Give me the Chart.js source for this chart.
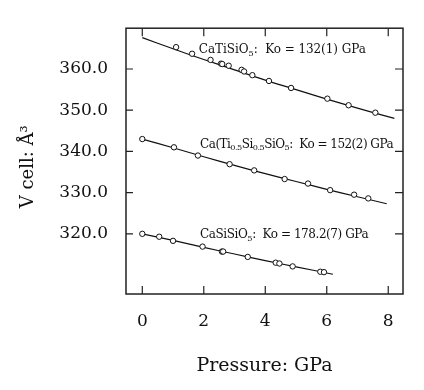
<!DOCTYPE html>
<html><head><meta charset="utf-8">
<script src="https://cdn.jsdelivr.net/npm/chart.js@4/dist/chart.umd.min.js"></script>
<style>html,body{margin:0;padding:0;background:#fff}#wrap{width:424px;height:390px}</style>
</head><body><div id="wrap"><canvas id="c" width="424" height="390"></canvas></div>
<script>
// ---- data ----
const xTicks = [0, 2, 4, 6, 8];
const xTickLabels = ['0', '2', '4', '6', '8'];
const yTicks = [320, 330, 340, 350, 360];
const yTickLabels = ['320.0', '330.0', '340.0', '350.0', '360.0'];

// CaTiSiO5
const tiP = [1.10, 1.62, 2.22, 2.56, 2.60, 2.81, 3.23, 3.31, 3.58, 4.12, 4.84, 6.02, 6.71, 7.58];
const tiV = [365.3, 363.7, 362.2, 361.3, 361.2, 360.8, 359.8, 359.4, 358.5, 357.1, 355.4, 352.8, 351.2, 349.4];
const tiFitP = [0, 1, 2, 3, 4, 5, 6, 7, 8.2];
const tiFitV = [367.6, 364.9, 362.3, 359.8, 357.3, 355.0, 352.7, 350.5, 348.0];

// Ca(Ti0.5Si0.5)SiO5
const midP = [0, 1.03, 1.81, 2.84, 3.64, 4.63, 5.39, 6.11, 6.89, 7.35];
const midV = [343.0, 341.0, 339.0, 336.9, 335.4, 333.3, 332.2, 330.6, 329.5, 328.6];
const midFitP = [0, 1, 2, 3, 4, 5, 6, 7, 7.95];
const midFitV = [343.0, 340.9, 338.7, 336.6, 334.6, 332.7, 330.8, 329.0, 327.3];

// CaSiSiO5
const siP = [0, 0.55, 1.00, 1.96, 2.59, 2.63, 3.43, 4.34, 4.46, 4.89, 5.79, 5.91];
const siV = [320.0, 319.3, 318.3, 316.9, 315.7, 315.7, 314.4, 313.0, 312.8, 312.1, 310.8, 310.7];
const siFitP = [0, 1, 2, 3, 4, 5, 6.2];
const siFitV = [320.0, 318.4, 316.7, 315.1, 313.5, 312.0, 310.2];

const labels = [
  {parts: [['CaTiSiO', 0], ['5', 1], [':  Ko = 132(1) GPa', 0]]},
  {parts: [['Ca(Ti', 0], ['0.5', 1], ['Si', 0], ['0.5', 1], ['SiO', 0], ['5', 1], [':  Ko = 152(2) GPa', 0]]},
  {parts: [['CaSiSiO', 0], ['5', 1], [':  Ko = 178.2(7) GPa', 0]]}
];
const labelAnchorP = [1.84, 1.88, 1.88];
const labelAnchorV = [364.7, 341.7, 319.8];
const labelWidth = [167, 193, 168];

const pts = (xs, ys) => xs.map((x, i) => ({x, y: ys[i]}));
const SERIF = '"DejaVu Serif", serif';

const pointStyle = {
  showLine: false, pointStyle: 'circle', pointRadius: 2.7, pointBorderWidth: 1,
  pointBorderColor: '#111', pointBackgroundColor: '#fff', order: 0
};
const lineStyle = {
  showLine: true, pointRadius: 0, borderColor: '#111', borderWidth: 1.2, tension: 0.3, order: 1
};

function drawRich(ctx, x, y, parts, size, target) {
  let total = 0, n = 0;
  ctx.letterSpacing = '0px';
  for (const [t, sub] of parts) {
    ctx.font = (sub ? size * 0.68 : size) + 'px ' + SERIF;
    total += ctx.measureText(t).width; n += t.length;
  }
  const ls = (target - total) / n;
  ctx.letterSpacing = ls.toFixed(2) + 'px';
  let cx = x;
  for (const [t, sub] of parts) {
    ctx.font = (sub ? size * 0.68 : size) + 'px ' + SERIF;
    ctx.fillText(t, cx, sub ? y + size * 0.32 : y);
    cx += ctx.measureText(t).width;
  }
  ctx.letterSpacing = '0px';
}

const framePlugin = {
  id: 'frame',
  afterDatasetsDraw(chart) {
    const {ctx, chartArea: a, scales: {x, y}} = chart;
    ctx.save();
    ctx.strokeStyle = '#222';
    ctx.lineWidth = 1.5;
    ctx.strokeRect(a.left, a.top, a.right - a.left, a.bottom - a.top);
    ctx.lineWidth = 1.2;
    ctx.beginPath();
    xTicks.forEach(v => {
      const px = x.getPixelForValue(v);
      ctx.moveTo(px, a.bottom); ctx.lineTo(px, a.bottom - 8);
      ctx.moveTo(px, a.top); ctx.lineTo(px, a.top + 8);
    });
    yTicks.forEach(v => {
      const py = y.getPixelForValue(v);
      ctx.moveTo(a.left, py); ctx.lineTo(a.left + 7, py);
      ctx.moveTo(a.right, py); ctx.lineTo(a.right - 8, py);
    });
    ctx.stroke();
    ctx.fillStyle = '#111';
    ctx.textBaseline = 'middle';
    ctx.textAlign = 'left';
    labels.forEach((l, i) => {
      drawRich(ctx, x.getPixelForValue(labelAnchorP[i]), y.getPixelForValue(labelAnchorV[i]), l.parts, 12, labelWidth[i]);
    });
    ctx.restore();
  }
};

new Chart(document.getElementById('c'), {
  type: 'scatter',
  data: {
    datasets: [
      {label: 'CaTiSiO5 fit', data: pts(tiFitP, tiFitV), ...lineStyle},
      {label: 'CaTiSiO5', data: pts(tiP, tiV), ...pointStyle},
      {label: 'Ca(Ti0.5Si0.5)SiO5 fit', data: pts(midFitP, midFitV), ...lineStyle},
      {label: 'Ca(Ti0.5Si0.5)SiO5', data: pts(midP, midV), ...pointStyle},
      {label: 'CaSiSiO5 fit', data: pts(siFitP, siFitV), ...lineStyle},
      {label: 'CaSiSiO5', data: pts(siP, siV), ...pointStyle}
    ]
  },
  options: {
    responsive: false,
    animation: false,
    events: [],
    layout: {padding: {left: 0, top: 17, right: 21, bottom: 0}},
    plugins: {legend: {display: false}, tooltip: {enabled: false}},
    scales: {
      x: {
        type: 'linear', min: -0.53, max: 8.48,
        afterBuildTicks: s => { s.ticks = xTicks.map(v => ({value: v})); },
        afterFit: s => { s.height = 96; },
        grid: {display: false, drawTicks: false},
        border: {display: false},
        ticks: {
          padding: 17, color: '#111', font: {family: SERIF, size: 17},
          callback: (v) => xTickLabels[xTicks.indexOf(v)]
        },
        title: {display: true, text: 'Pressure: GPa', color: '#111', font: {family: SERIF, size: 19}, padding: {top: 0, bottom: 13}}
      },
      y: {
        type: 'linear', min: 305.4, max: 369.9,
        afterBuildTicks: s => { s.ticks = yTicks.map(v => ({value: v})); },
        afterFit: s => { s.width = 126; },
        grid: {display: false, drawTicks: false},
        border: {display: false},
        ticks: {
          padding: 18, color: '#111', font: {family: SERIF, size: 17},
          callback: (v) => yTickLabels[yTicks.indexOf(v)]
        },
        title: {display: true, text: 'V cell: Å³  ', color: '#111', font: {family: SERIF, size: 18}, padding: {top: 18, bottom: 0}}
      }
    }
  },
  plugins: [framePlugin]
});
</script>
</body></html>
